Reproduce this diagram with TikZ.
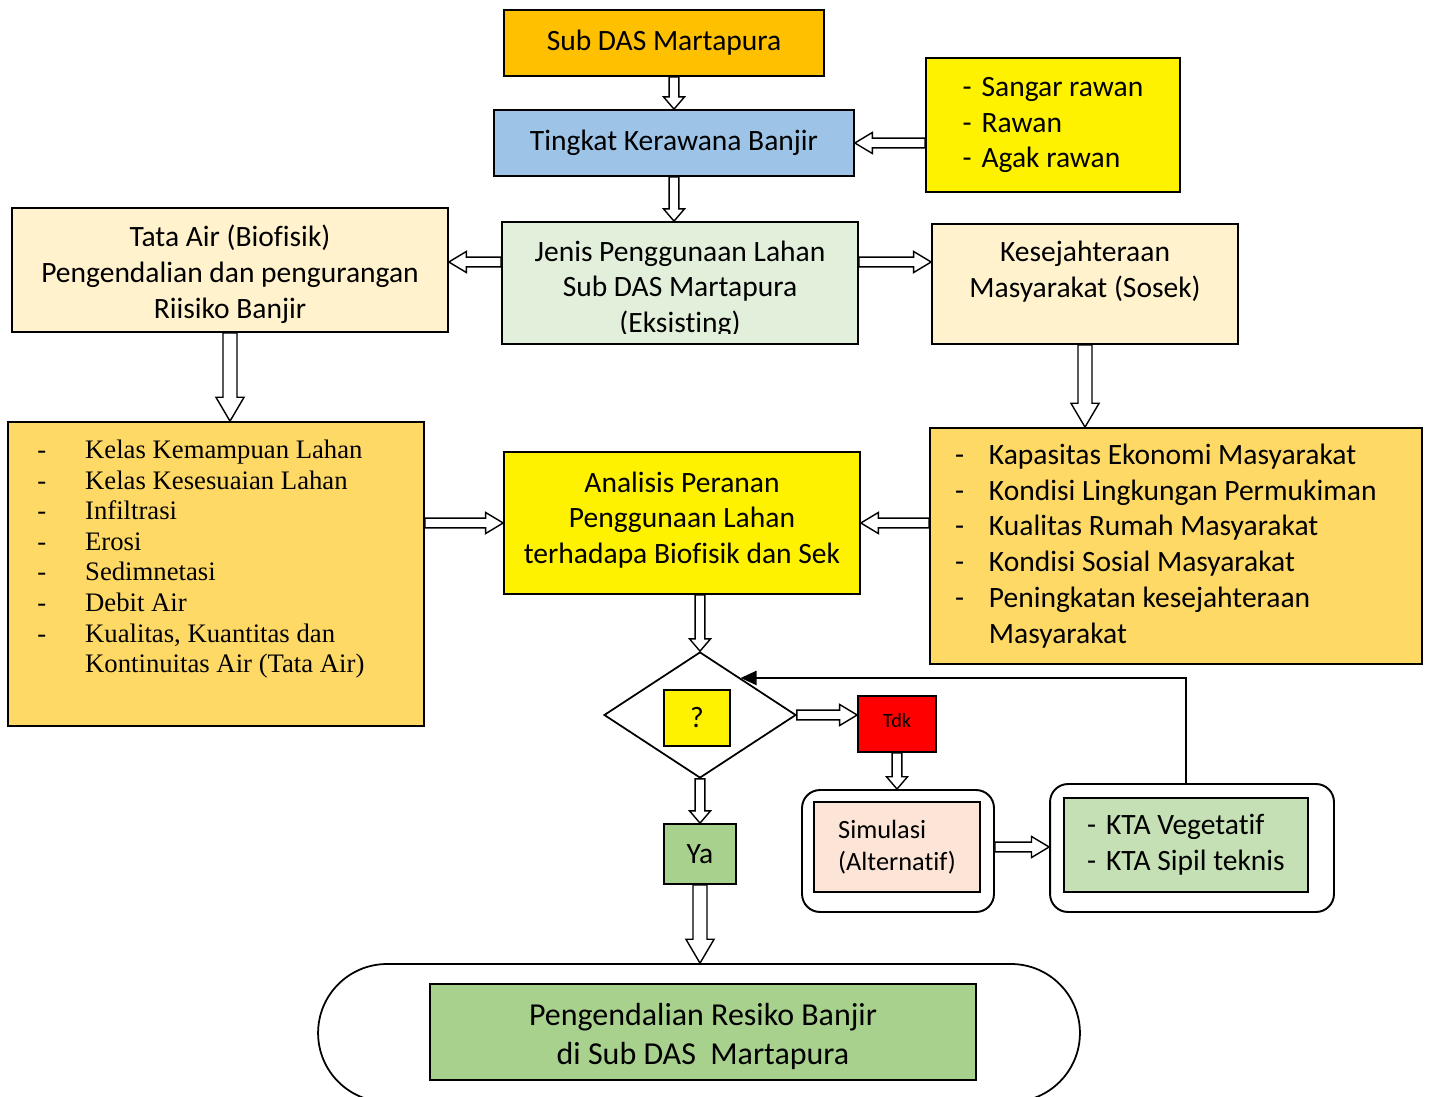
\documentclass[tikz,border=0pt]{standalone}
\usepackage{fontspec}
\setmainfont{Carlito}[Ligatures=NoCommon]
\newfontfamily\timesfont{Liberation Serif}
\usepackage{tikz}
\usetikzlibrary{calc,shapes.geometric,arrows.meta}
\definecolor{subor}{HTML}{FFC000}
\definecolor{tkblue}{HTML}{9DC3E6}
\definecolor{cream}{HTML}{FFF2CC}
\definecolor{jgreen}{HTML}{E2EFDA}
\definecolor{gold}{HTML}{FFD966}
\definecolor{peach}{HTML}{FCE4D6}
\definecolor{ktagreen}{HTML}{C5E0B4}
\definecolor{yagreen}{HTML}{A9D18E}

\tikzset{
  blockarrow/.style n args={3}{draw, line width=0.8pt, fill=white,
    to path={let \p1=(\tikztostart), \p2=(\tikztotarget),
      \n1={atan2(\y2-\y1,\x2-\x1)} in
      ($(\p1)+({\n1+90}:#1)$) -- ($(\p2)+({\n1+180}:#3)+({\n1+90}:#1)$)
      -- ($(\p2)+({\n1+180}:#3)+({\n1+90}:#2)$) -- (\p2)
      -- ($(\p2)+({\n1+180}:#3)+({\n1-90}:#2)$)
      -- ($(\p2)+({\n1+180}:#3)+({\n1-90}:#1)$)
      -- ($(\p1)+({\n1-90}:#1)$) -- cycle}},
  smallarrow/.style={blockarrow={2.8pt}{6pt}{7pt}},
  longarrow/.style={blockarrow={2.8pt}{6pt}{10pt}},
  bigarrow/.style={blockarrow={4pt}{8pt}{13.6pt}},
}

\begin{document}
\begin{tikzpicture}[x=0.02cm,y=-0.02cm,
    every node/.style={font=\fontsize{16.8}{20.4}\selectfont},
    box/.style={draw, line width=1pt, inner sep=0pt, align=center},
    outerbox/.style={draw, line width=1.1pt, rounded corners=0.36cm}]
  \useasboundingbox (0,0) rectangle (1432,1097);

  % top
  \node[box, fill=subor, minimum width=6.4cm, minimum height=1.32cm] (sub) at (664,43) {Sub DAS Martapura};
  \node[box, fill=tkblue, minimum width=7.2cm, minimum height=1.32cm] (tingkat) at (674,143) {Tingkat Kerawana Banjir};
  \node[box, fill=yellow, align=left, minimum width=5.08cm, minimum height=2.68cm] (rawan) at (1053,125) {-\,\,Sangar rawan\\-\,\,Rawan\\-\,\,Agak rawan};

  % second row
  \node[box, fill=cream, minimum width=8.72cm, minimum height=2.48cm] (tata) at (230,270) {};
  \node[align=center] (tata-txt) at ([yshift=-2.3pt]tata.center) {Tata Air (Biofisik)\\Pengendalian dan pengurangan\\Riisiko Banjir};
  \node[box, fill=jgreen, minimum width=7.12cm, minimum height=2.44cm] (jenis) at (680,283) {};
  \begin{scope}
    \clip (jenis.north west) rectangle ([yshift=6.2pt]jenis.south east);
    \node[align=center] (jenis-txt) at ([yshift=-3.5pt]jenis.center) {Jenis Penggunaan Lahan\\Sub DAS Martapura\\(Eksisting)};
  \end{scope}
  \node[box, fill=cream, minimum width=6.12cm, minimum height=2.4cm] (kes) at (1085,284) {};
  \node[align=center] (kes-txt) at ([yshift=6.8pt]kes.center) {Kesejahteraan\\Masyarakat (Sosek)};
  \coordinate (midrow) at (0,262);

  % lists
  \node[box, fill=gold, minimum width=8.32cm, minimum height=6.08cm] (leftlist) at (216,574) {};
  \node[anchor=north west, align=left, inner sep=0pt, font=\timesfont\fontsize{15.2}{17.4}\selectfont]
    (leftitems) at ([xshift=17pt,yshift=-10.6pt]leftlist.north west)
    {\makebox[27.2pt][l]{-}Kelas Kemampuan Lahan\\
     \makebox[27.2pt][l]{-}Kelas Kesesuaian Lahan\\
     \makebox[27.2pt][l]{-}Infiltrasi\\
     \makebox[27.2pt][l]{-}Erosi\\
     \makebox[27.2pt][l]{-}Sedimnetasi\\
     \makebox[27.2pt][l]{-}Debit Air\\
     \makebox[27.2pt][l]{-}Kualitas, Kuantitas dan\\
     \hspace*{27.2pt}Kontinuitas Air (Tata Air)};
  \node[box, fill=yellow, minimum width=7.12cm, minimum height=2.84cm] (analisis) at (682,523) {};
  \node[align=center] (analisis-txt) at ([yshift=1.7pt]analisis.center) {Analisis Peranan\\Penggunaan Lahan\\terhadapa Biofisik dan Sek};
  \node[box, fill=gold, align=flush left, text width=8.84cm, minimum width=9.84cm, minimum height=4.72cm] (rightlist) at (1176,546)
    {\makebox[19.3pt][l]{-}Kapasitas Ekonomi Masyarakat\\
     \makebox[19.3pt][l]{-}Kondisi Lingkungan Permukiman\\
     \makebox[19.3pt][l]{-}Kualitas Rumah Masyarakat\\
     \makebox[19.3pt][l]{-}Kondisi Sosial Masyarakat\\
     \makebox[19.3pt][l]{-}Peningkatan kesejahteraan\\
     \hspace*{19.3pt}Masyarakat};

  % decision
  \node[draw, line width=1pt, shape=diamond, minimum width=3.84cm, minimum height=2.52cm, inner sep=0pt] (dia) at (700,715) {};
  \node[box, fill=yellow, minimum width=1.32cm, minimum height=1.12cm] (tanya) at (697,718) {?};
  \node[box, fill=red, minimum width=1.56cm, minimum height=1.12cm, font=\fontsize{11.5}{13}\selectfont] (tdk) at (897,724) {};
  \node (tdk-txt) at ([yshift=2pt]tdk.center) {\fontsize{11.5}{13}\selectfont Tdk};
  \node[outerbox, minimum width=3.84cm, minimum height=2.44cm] (simout) at (898,851) {};
  \node[box, fill=peach, align=left, minimum width=3.32cm, minimum height=1.8cm, font=\fontsize{15}{18}\selectfont] (siminner) at (897,847) {Simulasi\\(Alternatif)};
  \node[outerbox, minimum width=5.68cm, minimum height=2.56cm] (ktaout) at (1192,848) {};
  \node[box, fill=ktagreen, align=left, minimum width=4.88cm, minimum height=1.88cm] (ktain) at (1186,845) {-\,\,KTA Vegetatif\\-\,\,KTA Sipil teknis};
  \node[box, fill=yagreen, minimum width=1.44cm, minimum height=1.2cm] (ya) at (700,854) {Ya};

  % bottom
  \node[draw, line width=1pt, rounded corners=1.38cm, minimum width=15.24cm, minimum height=2.76cm] (oval) at (699,1033) {};
  \node[box, fill=yagreen, minimum width=10.92cm, minimum height=1.92cm, font=\fontsize{18.2}{22.1}\selectfont] (final) at (703,1032) {};
  \node[align=center, font=\fontsize{18.2}{22.1}\selectfont] (final-txt) at ([yshift=-2.5pt]final.center) {Pengendalian Resiko Banjir\\di Sub DAS\ \ Martapura};

  % arrows
  \draw[smallarrow] (sub.south -| tingkat.north) to (tingkat.north);
  \draw[smallarrow] (tingkat.south) to (tingkat.south |- jenis.north);
  \draw[longarrow] (tingkat.east -| rawan.west) to (tingkat.east);
  \draw[longarrow] (jenis.west |- midrow) to (tata.east |- midrow);
  \draw[longarrow] (jenis.east |- midrow) to (kes.west |- midrow);
  \draw[bigarrow] (tata.south) to (tata.south |- leftlist.north);
  \draw[bigarrow] (kes.south) to (kes.south |- rightlist.north);
  \draw[longarrow] (analisis.west -| leftlist.east) to (analisis.west);
  \draw[longarrow] (analisis.east -| rightlist.west) to (analisis.east);
  \draw[smallarrow] (dia.north |- analisis.south) to (dia.north);
  \draw[longarrow] (dia.east) to (dia.east -| tdk.west);
  \draw[smallarrow] (tdk.south) to (tdk.south |- simout.north);
  \draw[smallarrow] (dia.south) to (ya.north);
  \draw[bigarrow] (ya.south) to (ya.south |- oval.north);
  \draw[longarrow] (siminner.east -| simout.east) to (siminner.east -| ktaout.west);
  % feedback
  \coordinate (fb) at ($(dia.north)!0.42!(dia.east)$);
  \draw[line width=1.2pt, -{Triangle[length=9pt,width=8pt]}] (ktain.north |- ktaout.north) |- (fb);
\end{tikzpicture}
\end{document}
